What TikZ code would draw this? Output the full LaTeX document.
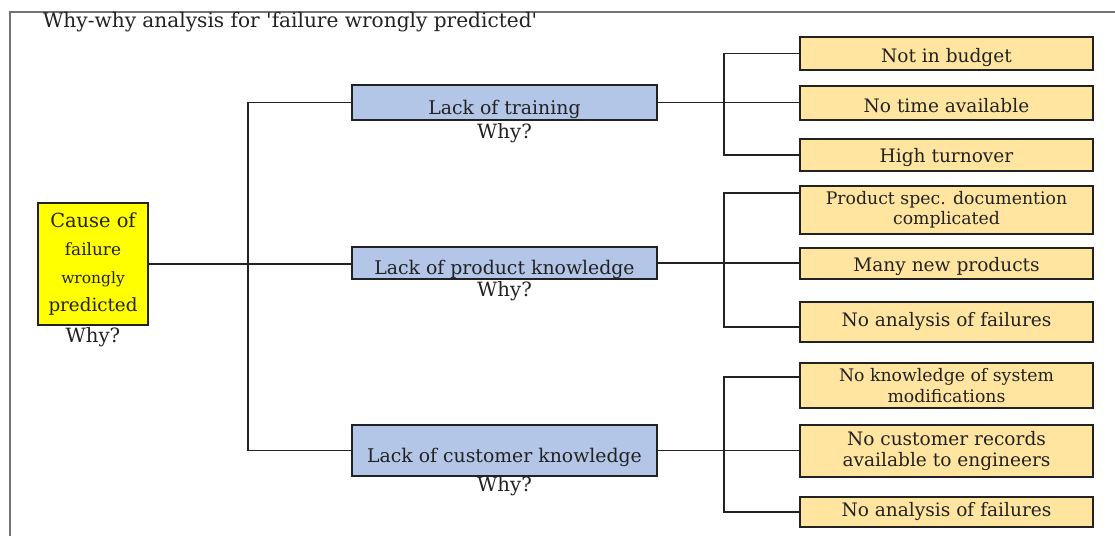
\documentclass[tikz,border=0pt]{standalone}
\usepackage{fontspec}
\setmainfont{DejaVu Serif}
\usetikzlibrary{positioning}

\newdimen\px \px=0.025cm
\definecolor{causeyellow}{HTML}{FFFF00}
\definecolor{whyblue}{HTML}{B4C6E7}
\definecolor{reasongold}{HTML}{FFE59F}
\definecolor{inkdark}{HTML}{222222}

\begin{document}
\begin{tikzpicture}[x=0.025cm, y=-0.025cm,
    box/.style={draw=inkdark, line width=1pt, rectangle, inner sep=0pt, align=center, text=inkdark},
    cause box/.style={box, fill=causeyellow, minimum width=110\px, minimum height=122\px},
    why box/.style={box, fill=whyblue, minimum width=305\px, font=\fontsize{13.4}{15}\selectfont},
    reason box/.style={box, fill=reasongold, minimum width=293\px, font=\fontsize{13.2}{14.5}\selectfont},
    why label/.style={inner sep=0pt, text=inkdark, font=\fontsize{14}{16}\selectfont},
    link/.style={line width=0.9pt, draw=inkdark}]
        \useasboundingbox (0,0) rectangle (1115,536);
        \draw[line width=0.9pt, draw=black!55] (10,536) -- (10,12) -- (1115,12);

        \node[anchor=base, text=inkdark, font=\fontsize{14.3}{16}\selectfont] (title) at (290,28) {Why-why analysis for \textquotesingle failure wrongly predicted\textquotesingle};

        % first cause
        \node[cause box, font=\fontsize{13}{20}\selectfont] (cause) at (93,264)
            {{\fontsize{13.8}{20}\selectfont Cause of}\\{\fontsize{12}{20}\selectfont failure}\\{\fontsize{11}{20}\selectfont wrongly}\\predicted};
        \node[why label, below=1pt of cause] (causewhy) {Why?};

        % why?
        \node[why box, text height=21.3pt, text depth=3.6pt] (lt) at (504.5,102.5) {Lack of training};
        \node[why box, text height=19.9pt, text depth=2.9pt] (lp) at (504.5,263) {Lack of product knowledge};
        \node[why box, text height=27pt, text depth=9.3pt] (lc) at (504.5,450.5) {Lack of customer knowledge};

        \node[why label, below=1.5pt of lt] (ltwhy) {Why?};
        \node[why label, below=1pt of lp] (lpwhy) {Why?};
        \node[why label, below=0pt of lc] (lcwhy) {Why?};

        % why? why?
        \node[reason box, minimum height=33\px, text height=16pt, text depth=3pt] (nb) at (946.5,53.5) {Not in budget};
        \node[reason box, minimum height=34\px, text height=16pt, text depth=3pt] (nt) at (946.5,103) {No time available};
        \node[reason box, minimum height=32\px, text height=13pt, text depth=3pt] (ht) at (946.5,155) {High turnover};

        \node[reason box, minimum height=48\px, font=\fontsize{12.3}{14}\selectfont] (ps) at (946.5,210) {Product spec. documention\\complicated};
        \node[reason box, minimum height=31\px, text height=15pt, text depth=3pt] (mn) at (946.5,263.5) {Many new products};
        \node[reason box, minimum height=40\px] (na) at (946.5,322) {No analysis of failures};

        \node[reason box, minimum height=45\px, font=\fontsize{12.3}{15}\selectfont] (nk) at (946.5,385.5) {No knowledge of system\\modifications};
        \node[reason box, minimum height=52\px] (nc) at (946.5,451) {No customer records\\available to engineers};
        \node[reason box, minimum height=30\px] (nf) at (946.5,512) {No analysis of failures};

        \coordinate (ltrunk) at (248,0);
        \coordinate (rtrunk) at (724,0);
        \coordinate (psin) at ([yshift=17\px]ps.west);
        \coordinate (nain) at ([yshift=-5\px]na.west);
        \coordinate (nkin) at ([yshift=8.5\px]nk.west);

        \draw[link] (cause.east) -- (cause.east -| lp.west);
        \draw[link] (lt.west) -- (lt.west -| ltrunk) |- (lc.west);

        \draw[link] (lt.east) -- (lt.east -| nt.west);
        \draw[link] (nb.west) -- (nb.west -| rtrunk) |- (ht.west);

        \draw[link] (lp.east) -- (lp.east -| mn.west);
        \draw[link] (psin) -- (psin -| rtrunk) |- (nain);

        \draw[link] (lc.east) -- (lc.east -| nc.west);
        \draw[link] (nkin) -- (nkin -| rtrunk) |- (nf.west);
    \end{tikzpicture}
\end{document}
